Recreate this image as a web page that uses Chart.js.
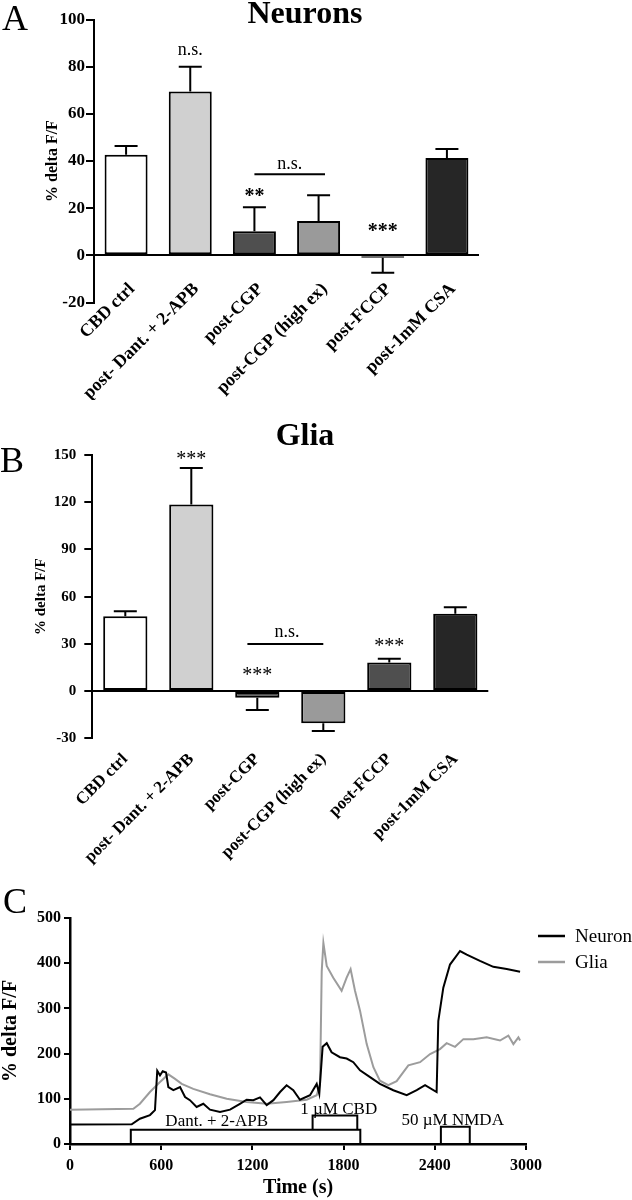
<!DOCTYPE html>
<html>
<head>
<meta charset="utf-8">
<script src="https://cdn.jsdelivr.net/npm/chart.js@4.4.1/dist/chart.umd.min.js"></script>
<style>
  body { margin: 0; background: #fff; width: 632px; height: 1200px; position: relative; overflow: hidden; }
  .panel { position: absolute; left: 0; width: 632px; }
</style>
</head>
<body>
<div class="panel" style="top:0;height:400px"><canvas id="chartA"></canvas></div>
<div class="panel" style="top:400px;height:470px"><canvas id="chartB"></canvas></div>
<div class="panel" style="top:870px;height:330px"><canvas id="chartC"></canvas></div>
<script>
// bar panels (A neurons, B glia)
const groups = ['CBD ctrl', 'post- Dant. + 2-APB', 'post-CGP', 'post-CGP (high ex)', 'post-FCCP', 'post-1mM CSA'];
const neuronMeans = [42.6, 69.5, 10.2, 14.6, -1, 41.3];
const neuronSem = [3.8, 10.5, 10.2, 10.9, 6.4, 3.8];
const gliaMeans = [47.6, 118.6, -4.2, -20.5, 18.2, 49.1];
const gliaSem = [3.2, 23.1, 7.8, 4.9, 2.3, 4.1];

// significance marks: text, category position, value level
const neuronMarkText = ['n.s.', '**', '***', 'n.s.'];
const neuronMarkAt = [1, 2, 4, 2.55];
const neuronMarkLevel = [87, 26.6, 11.7, 38.5];
const neuronBracket = [2, 3.1, 34.4];
const gliaMarkText = ['***', '***', 'n.s.', '***'];
const gliaMarkAt = [1, 2, 2.45, 4];
const gliaMarkLevel = [149.3, 12.3, 37.5, 30.7];
const gliaBracket = [1.85, 3.0, 29.9];

// panel C traces
const neuronTime = [0, 406, 460, 526, 559, 574, 592, 610, 632, 647, 680, 724, 757, 789, 833, 877, 921, 987, 1053, 1118, 1162, 1206, 1250, 1294, 1338, 1382, 1425, 1469, 1513, 1579, 1623, 1640, 1662, 1689, 1721, 1776, 1820, 1864, 1908, 1974, 2039, 2127, 2215, 2281, 2336, 2412, 2423, 2456, 2500, 2566, 2610, 2697, 2785, 2873, 2961];
const neuronTrace = [43, 43.5, 56, 64, 75, 162, 152, 161, 158, 126, 119, 126, 104, 97, 82, 89, 76, 71, 76, 89, 98, 97, 103, 86, 97, 115, 130, 119, 98, 108, 133, 111, 215, 223, 203, 192, 189, 181, 163, 148, 133, 119, 108, 119, 130, 115, 272, 346, 397, 427, 419, 405, 392, 387, 381];
const gliaTime = [0, 417, 460, 526, 592, 647, 691, 735, 811, 921, 1031, 1162, 1294, 1425, 1557, 1623, 1645, 1656, 1667, 1689, 1732, 1787, 1820, 1846, 1875, 1908, 1952, 1996, 2039, 2094, 2149, 2226, 2303, 2369, 2434, 2478, 2533, 2588, 2654, 2741, 2829, 2884, 2917, 2950, 2961];
const gliaTrace = [76, 78, 89, 115, 137, 154, 144, 133, 122, 110, 100, 93, 89, 93, 98, 108, 133, 382, 445, 394, 368, 339, 368, 387, 339, 295, 221, 170, 140, 130, 139, 174, 181, 199, 210, 223, 215, 232, 232, 236, 229, 240, 221, 236, 229];

// drug application boxes
const stimLabels = ['Dant. + 2-APB', '1 µM CBD', '50 µM NMDA'];
const stimStart = [400, 1596, 2440];
const stimEnd = [1910, 1890, 2630];
const stimBase = [0, 31.5, 0];
const stimTop = [31.5, 63, 38];
const stimTextAt = [965, 1768, 2518];
const stimTextLevel = [49, 77, 51];

const serif = "'Liberation Serif', 'Times New Roman', serif";
const barColors = ['#ffffff', '#d0d0d0', '#4f4f4f', '#9a9a9a', '#4f4f4f', '#262626'];

function text(ctx, str, x, y, font, align = 'center', baseline = 'middle') {
  ctx.save();
  ctx.font = font;
  ctx.fillStyle = '#000';
  ctx.textAlign = align;
  ctx.textBaseline = baseline;
  ctx.fillText(str, x, y);
  ctx.restore();
}

const errorBars = {
  id: 'errorBars',
  afterDatasetsDraw(chart) {
    const ds = chart.data.datasets[0];
    const y = chart.scales.y;
    const ctx = chart.ctx;
    ctx.save();
    ctx.strokeStyle = '#000';
    ctx.lineWidth = 2;
    chart.getDatasetMeta(0).data.forEach((bar, i) => {
      const v = ds.data[i];
      const dir = v < 0 ? -1 : 1;
      const y0 = y.getPixelForValue(v);
      const y1 = y.getPixelForValue(v + dir * ds.sem[i]);
      ctx.beginPath();
      ctx.moveTo(bar.x, y0);
      ctx.lineTo(bar.x, y1);
      ctx.moveTo(bar.x - 11.5, y1);
      ctx.lineTo(bar.x + 11.5, y1);
      ctx.stroke();
    });
    ctx.restore();
  }
};

function makeMarks(texts, at, levels, bracket, starFont, nsFont) {
  return {
    id: 'marks',
    afterDatasetsDraw(chart) {
      const { x, y } = chart.scales;
      const ctx = chart.ctx;
      texts.forEach((t, i) => {
        const px = x.getPixelForValue(at[i]);
        const py = y.getPixelForValue(levels[i]);
        if (t.startsWith('*')) text(ctx, t, px, py + 9, starFont, 'center', 'alphabetic');
        else text(ctx, t, px, py, nsFont);
      });
      ctx.save();
      ctx.strokeStyle = '#000';
      ctx.lineWidth = 2;
      ctx.beginPath();
      ctx.moveTo(x.getPixelForValue(bracket[0]), y.getPixelForValue(bracket[2]));
      ctx.lineTo(x.getPixelForValue(bracket[1]), y.getPixelForValue(bracket[2]));
      ctx.stroke();
      ctx.restore();
    }
  };
}

function makeDecor(letter, lx, ly, title, tx, ty) {
  return {
    id: 'decor',
    afterDraw(chart) {
      const ctx = chart.ctx;
      text(ctx, letter, lx, ly, `36px ${serif}`, 'left', 'alphabetic');
      if (title) text(ctx, title, tx, ty, `bold 32px ${serif}`, 'center', 'alphabetic');
    }
  };
}

// panel A hangs its category names just under the zero line, not under the axis end
const slantLabels = {
  id: 'slantLabels',
  afterDraw(chart) {
    const { x, y } = chart.scales;
    const ctx = chart.ctx;
    chart.data.labels.forEach((lab, i) => {
      ctx.save();
      ctx.translate(x.getPixelForValue(i) + 6, y.getPixelForValue(0) + 31);
      ctx.rotate(-Math.PI / 4);
      ctx.font = `bold 18px ${serif}`;
      ctx.fillStyle = '#000';
      ctx.textAlign = 'right';
      ctx.textBaseline = 'middle';
      ctx.fillText(lab, 0, 0);
      ctx.restore();
    });
  }
};

function barChart(id, means, sem, range, cfg, extra) {
  return new Chart(document.getElementById(id), {
    type: 'bar',
    data: {
      labels: groups,
      datasets: [{
        data: means,
        sem: sem,
        backgroundColor: barColors,
        borderColor: '#000',
        borderWidth: 2,
        borderSkipped: false,
        barPercentage: 0.67,
        categoryPercentage: 1
      }]
    },
    options: {
      responsive: true,
      maintainAspectRatio: false,
      animation: false,
      layout: { padding: { top: cfg.top, right: cfg.right, left: 0, bottom: 0 } },
      plugins: { legend: { display: false }, tooltip: { enabled: false } },
      scales: {
        x: {
          grid: { display: false },
          border: { display: false },
          ticks: {
            display: cfg.showTicks, color: '#000', autoSkip: false, minRotation: 45, maxRotation: 45,
            padding: cfg.labelPad,
            font: { family: serif, size: 17, weight: 'bold' }
          },
          afterFit: s => { s.height = cfg.xh; }
        },
        y: {
          min: range[0], max: range[1],
          ticks: { stepSize: range[2], color: '#000', padding: cfg.tickPad, font: { family: serif, size: cfg.tickSize, weight: 'bold' } },
          border: { color: '#000', width: 2 },
          grid: { color: c => (c.tick && c.tick.value === 0 ? '#000' : 'transparent'), tickColor: '#000', lineWidth: 2, tickLength: 8 },
          title: { display: true, text: '% delta F/F', color: '#000', padding: { top: cfg.titlePad, bottom: 0 }, font: { family: serif, size: cfg.titleSize, weight: 'bold' } },
          afterFit: s => { s.width = cfg.yw; }
        }
      }
    },
    plugins: [errorBars].concat(extra)
  });
}

barChart('chartA', neuronMeans, neuronSem, [-20, 100, 20],
  { top: 19.5, right: 153, xh: 97.5, yw: 94, showTicks: false, labelPad: 0, tickPad: 1, tickSize: 17, titlePad: 43, titleSize: 16 },
  [makeMarks(neuronMarkText, neuronMarkAt, neuronMarkLevel, neuronBracket, `bold 20px ${serif}`, `18px ${serif}`),
   makeDecor('A', 2, 30, 'Neurons', 305, 23), slantLabels]);

barChart('chartB', gliaMeans, gliaSem, [-30, 150, 30],
  { top: 55, right: 143.7, xh: 131.7, yw: 92.3, showTicks: true, labelPad: 3, tickPad: 8, tickSize: 15, titlePad: 32, titleSize: 15 },
  [makeMarks(gliaMarkText, gliaMarkAt, gliaMarkLevel, gliaBracket, `20px ${serif}`, `18px ${serif}`),
   makeDecor('B', 0, 72, 'Glia', 305, 45)]);

// panel C
const stimSets = stimLabels.map((lab, i) => ({
  label: lab,
  data: [
    { x: stimStart[i], y: stimBase[i] }, { x: stimStart[i], y: stimTop[i] },
    { x: stimEnd[i], y: stimTop[i] }, { x: stimEnd[i], y: stimBase[i] }
  ],
  borderColor: '#000', borderWidth: 2, pointRadius: 0, fill: false, tension: 0
}));

const traceLegend = {
  id: 'traceLegend',
  afterDraw(chart) {
    const ctx = chart.ctx;
    const { x, y } = chart.scales;
    chart.data.datasets.slice(0, 2).forEach((ds, i) => {
      const ly = 66 + i * 26;
      ctx.save();
      ctx.strokeStyle = ds.borderColor;
      ctx.lineWidth = 2.5;
      ctx.beginPath();
      ctx.moveTo(538, ly);
      ctx.lineTo(565, ly);
      ctx.stroke();
      ctx.restore();
      text(ctx, ds.label, 575, ly + 1, `19px ${serif}`, 'left');
    });
    stimLabels.forEach((lab, i) => {
      text(ctx, lab, x.getPixelForValue(stimTextAt[i]), y.getPixelForValue(stimTextLevel[i]), `17px ${serif}`);
    });
    text(ctx, 'C', 3, 43, `36px ${serif}`, 'left', 'alphabetic');
  }
};

new Chart(document.getElementById('chartC'), {
  type: 'line',
  data: {
    datasets: [
      { label: 'Neuron', data: neuronTime.map((t, i) => ({ x: t, y: neuronTrace[i] })), borderColor: '#000', borderWidth: 2, pointRadius: 0, tension: 0 },
      { label: 'Glia', data: gliaTime.map((t, i) => ({ x: t, y: gliaTrace[i] })), borderColor: '#9c9c9c', borderWidth: 2, pointRadius: 0, tension: 0 }
    ].concat(stimSets)
  },
  options: {
    responsive: true,
    maintainAspectRatio: false,
    animation: false,
    layout: { padding: { top: 48, right: 106, left: 0, bottom: 0 } },
    plugins: { legend: { display: false }, tooltip: { enabled: false } },
    scales: {
      x: {
        type: 'linear', min: 0, max: 3000,
        ticks: { stepSize: 600, color: '#000', padding: 6, callback: v => String(v), font: { family: serif, size: 16, weight: 'bold' } },
        border: { color: '#000', width: 2.5 },
        grid: { drawOnChartArea: false, color: '#000', lineWidth: 2, tickLength: 6 },
        title: { display: true, text: 'Time (s)', color: '#000', padding: { top: 0, bottom: 0 }, font: { family: serif, size: 20, weight: 'bold' } },
        afterFit: s => { s.height = 56; }
      },
      y: {
        min: 0, max: 500,
        ticks: { stepSize: 100, color: '#000', padding: 3, callback: v => String(v), font: { family: serif, size: 16, weight: 'bold' } },
        border: { color: '#000', width: 2.5 },
        grid: { drawOnChartArea: false, color: '#000', lineWidth: 2, tickLength: 6 },
        title: { display: true, text: '% delta F/F', color: '#000', padding: { top: -1, bottom: 0 }, font: { family: serif, size: 20, weight: 'bold' } },
        afterFit: s => { s.width = 70; }
      }
    }
  },
  plugins: [traceLegend]
});
</script>
</body>
</html>
